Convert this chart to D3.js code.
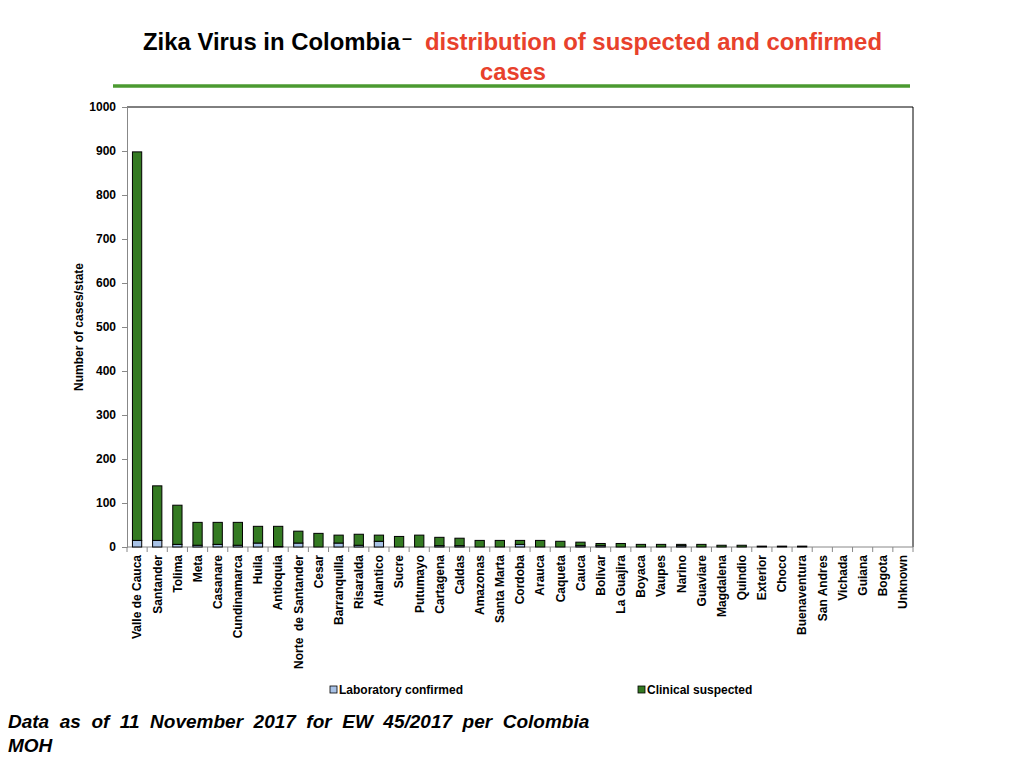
<!DOCTYPE html>
<html>
<head>
<meta charset="utf-8">
<script src="https://cdn.jsdelivr.net/npm/d3@7/dist/d3.min.js"></script>
<style>
  html, body { margin: 0; padding: 0; background: #fff; }
  svg { display: block; }
  text { font-family: "Liberation Sans", Arial, Helvetica, sans-serif; }
  .narrow { font-family: "Liberation Sans Narrow", "Arial Narrow", "Liberation Sans", Arial, sans-serif; }
</style>
</head>
<body>
<svg id="chart" width="1024" height="768"></svg>
<script>
const categories = ["Valle de Cauca","Santander","Tolima","Meta","Casanare","Cundinamarca","Huila","Antioquia","Norte  de Santander","Cesar","Barranquilla","Risaralda","Atlantico","Sucre","Putumayo","Cartagena","Caldas","Amazonas","Santa Marta","Cordoba","Arauca","Caqueta","Cauca","Bolivar","La Guajira","Boyaca","Vaupes","Narino","Guaviare","Magdalena","Quindio","Exterior","Choco","Buenaventura","San Andres","Vichada","Guiana","Bogota","Unknown"];
const labConfirmed = [15,15,6,4,6,4,9,1,9,0,9,4,13,0,0,3,3,0,0,6,0,0,3,3,0,0,0,3,0,0,0,0,0,0,0,0,0,0,0];
const clinicalSuspected = [883,124,89,52,50,52,38,46,27,31,18,25,14,24,27,19,17,15,15,9,15,13,8,5,8,6,6,3,6,4,4,2,2,2,0,0,0,0,0];
const yTicks = [0,100,200,300,400,500,600,700,800,900,1000];
const seriesNames = ["Laboratory confirmed","Clinical suspected"];
const seriesColors = ["#a8c2e6","#347a22"];

(function () {
const svg = d3.select("#chart");
const pLeft = 127, pRight = 913, pTop = 107, pBottom = 547;

const x = d3.scaleBand().domain(categories).range([pLeft, pRight]).paddingInner(0.54).paddingOuter(0.27);
const xb = d3.scaleBand().domain(categories).range([pLeft, pRight]);
const y = d3.scaleLinear().domain([0, 1000]).range([pBottom, pTop]);

// Title
svg.append("text").attr("class", "narrow").attr("x", 143).attr("y", 50)
  .attr("font-size", 24).attr("font-weight", "bold").attr("fill", "#000")
  .attr("textLength", 257).attr("lengthAdjust", "spacingAndGlyphs")
  .text("Zika Virus in Colombia");
svg.append("text").attr("class", "narrow").attr("x", 402).attr("y", 44)
  .attr("font-size", 18).attr("font-weight", "bold").attr("fill", "#000").text("–");
svg.append("text").attr("class", "narrow").attr("x", 425).attr("y", 50).attr("font-size", 24).attr("font-weight", "bold")
  .attr("fill", "#e8412c").attr("textLength", 457).attr("lengthAdjust", "spacingAndGlyphs")
  .text("distribution of suspected and confirmed");
svg.append("text").attr("class", "narrow").attr("x", 480).attr("y", 80).attr("font-size", 24)
  .attr("font-weight", "bold").attr("fill", "#e8412c").attr("textLength", 66).attr("lengthAdjust", "spacingAndGlyphs")
  .text("cases");
svg.append("line").attr("x1", 113).attr("x2", 910).attr("y1", 86).attr("y2", 86)
  .attr("stroke", "#4b9a30").attr("stroke-width", 3.5);

// Plot frame (top, right)
svg.append("path").attr("d", `M${pLeft},${pTop}H${pRight}V${pBottom}`).attr("fill", "none").attr("stroke", "#000").attr("stroke-width", 1);

// Y axis
const yAxis = d3.axisLeft(y).tickValues(yTicks).tickSize(5).tickPadding(6).tickFormat(d3.format("d"));
const gy = svg.append("g").attr("transform", `translate(${pLeft},0)`).call(yAxis);
gy.select(".domain").attr("stroke", "#888");
gy.selectAll(".tick line").attr("stroke", "#888");
gy.selectAll(".tick text").attr("font-size", 12).attr("font-weight", "bold").attr("fill", "#000")
  .style("font-family", "'Liberation Sans', Arial, sans-serif");

svg.append("text").attr("transform", `translate(83,${(pTop + pBottom) / 2}) rotate(-90)`)
  .attr("text-anchor", "middle").attr("font-size", 12).attr("font-weight", "bold")
  .text("Number of cases/state");

// X axis
const gx = svg.append("g").attr("transform", `translate(0,${pBottom})`);
gx.append("line").attr("x1", pLeft).attr("x2", pRight).attr("stroke", "#888");
gx.selectAll("line.tk").data(d3.range(categories.length + 1)).join("line").attr("class", "tk")
  .attr("x1", i => pLeft + i * xb.step()).attr("x2", i => pLeft + i * xb.step())
  .attr("y1", 0).attr("y2", 5).attr("stroke", "#888");
gx.selectAll("text").data(categories).join("text")
  .attr("transform", d => `translate(${xb(d) + xb.bandwidth() / 2},8) rotate(-90)`)
  .attr("text-anchor", "end").attr("dy", "0.36em").attr("font-size", 12).attr("font-weight", "bold")
  .style("white-space", "pre")
  .text(d => d);

// Stacked bars
const rows = categories.map((c, i) => ({cat: c, lab: labConfirmed[i], clin: clinicalSuspected[i]}));
const stack = d3.stack().keys(["lab", "clin"])(rows);
svg.append("g").selectAll("g").data(stack).join("g")
  .attr("fill", (d, i) => seriesColors[i])
  .selectAll("rect").data(d => d.filter(p => p[1] - p[0] > 0)).join("rect")
  .attr("x", d => x(d.data.cat))
  .attr("width", x.bandwidth())
  .attr("y", d => y(d[1]))
  .attr("height", d => y(d[0]) - y(d[1]))
  .attr("stroke", "#000").attr("stroke-width", 1);

// Legend
const legendX = [330, 638];
seriesNames.forEach((n, i) => {
  svg.append("rect").attr("x", legendX[i]).attr("y", 686).attr("width", 7).attr("height", 7)
    .attr("fill", seriesColors[i]).attr("stroke", "#000").attr("stroke-width", 0.8);
  svg.append("text").attr("x", legendX[i] + 9).attr("y", 694).attr("font-size", 12)
    .attr("font-weight", "bold").text(n);
});

// Footer (justified via word spacing)
const foot = svg.append("text").attr("x", 8).attr("y", 728).attr("font-size", 19).attr("font-weight", "bold")
  .attr("font-style", "italic")
  .text("Data as of 11 November 2017 for EW 45/2017 per Colombia");
const natural = foot.node().getComputedTextLength();
const spaces = 9;
foot.attr("word-spacing", Math.max(0, (576 - natural) / spaces));
svg.append("text").attr("x", 8).attr("y", 752).attr("font-size", 19).attr("font-weight", "bold")
  .attr("font-style", "italic").text("MOH");
})();
</script>
</body>
</html>
